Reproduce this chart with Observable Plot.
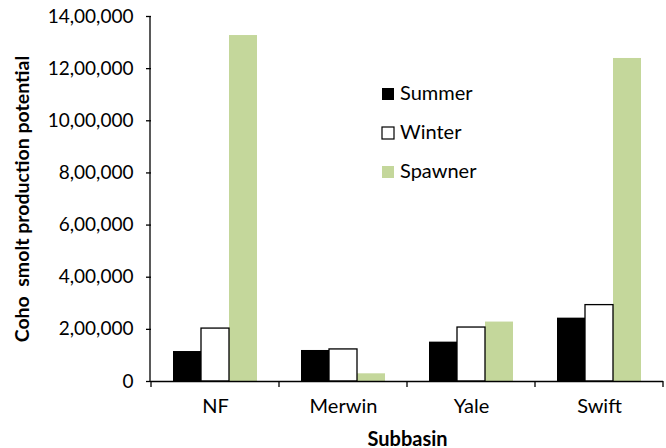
<!DOCTYPE html>
<html>
<head>
<meta charset="utf-8">
<script src="https://cdn.jsdelivr.net/npm/d3@7"></script>
<script src="https://cdn.jsdelivr.net/npm/@observablehq/plot@0.6"></script>
<style>
  html, body { margin: 0; padding: 0; background: #fff; }
  #chart svg { white-space: pre; }
</style>
</head>
<body>
<div id="chart"></div>
<script>
const subbasins = ["NF", "Merwin", "Yale", "Swift"];
const series = ["Summer", "Winter", "Spawner"];
const summer = [115000, 119000, 151000, 243000];
const winter = [203000, 123000, 207000, 293000];
const spawner = [1327000, 29500, 228000, 1239000];
const seriesFill = ["#000000", "#ffffff", "#c4d79b"];
const yTicks = [0, 200000, 400000, 600000, 800000, 1000000, 1200000, 1400000];
const yTickLabels = ["0", "2,00,000", "4,00,000", "6,00,000", "8,00,000", "10,00,000", "12,00,000", "14,00,000"];
const yTitle = "Coho  smolt production potential";
const xTitle = "Subbasin";

const values = {Summer: summer, Winter: winter, Spawner: spawner};
const data = subbasins.flatMap((s, i) => series.map(k => ({subbasin: s, series: k, value: values[k][i]})));

const FONT = "Lato, 'Open Sans', sans-serif";

const plot = Plot.plot({
  width: 666,
  height: 448,
  marginLeft: 150,
  marginRight: 3,
  marginTop: 16,
  marginBottom: 67,
  style: {fontFamily: FONT, fontSize: "19px", color: "#000", background: "#fff"},
  fx: {domain: subbasins, padding: 0},
  x: {domain: series, paddingInner: 0, paddingOuter: 0.75, axis: null},
  y: {domain: [0, 1400000]},
  color: {domain: series, range: seriesFill},
  marks: [
    Plot.barY(data.filter(d => d.series !== "Winter"), {fx: "subbasin", x: "series", y: "value", fill: "series"}),
    Plot.barY(data.filter(d => d.series === "Winter"), {fx: "subbasin", x: "series", y: "value", fill: "#ffffff", stroke: "#000", strokeWidth: 1.3}),
    Plot.ruleY([0], {stroke: "#000", strokeWidth: 1.3}),
    Plot.axisY({ticks: yTicks, tickFormat: d => yTickLabels[yTicks.indexOf(d)], tickSize: 5, tickPadding: 13, label: null, stroke: "#000", strokeWidth: 1.3, strokeOpacity: 1}),
    Plot.axisY({ticks: [], label: yTitle, labelArrow: "none", labelAnchor: "center", labelOffset: 136, fontWeight: "bold", fontSize: 19.5, dy: -8}),
    Plot.axisFx({anchor: "bottom", tickSize: 0, tickPadding: 17, label: null, fontSize: 20}),
    Plot.axisFx({anchor: "bottom", ticks: [], label: xTitle, labelArrow: "none", labelAnchor: "center", labelOffset: 64, fontWeight: "bold", fontSize: 20})
  ]
});

document.getElementById("chart").appendChild(plot);

// axis lines and category boundary ticks from the plot's own scales
const fx = plot.scale("fx");
const y = plot.scale("y");
const svg = d3.select(plot);
const g = svg.append("g").attr("stroke", "#000").attr("stroke-width", 1.3);
const x0 = fx.range[0];
g.append("line").attr("x1", x0).attr("x2", x0).attr("y1", y.apply(1400000)).attr("y2", y.apply(0));
const bounds = subbasins.map(s => fx.apply(s)).concat([fx.apply(subbasins[subbasins.length - 1]) + fx.bandwidth]);
bounds.forEach(b => {
  g.append("line").attr("x1", b).attr("x2", b).attr("y1", y.apply(0)).attr("y2", y.apply(0) + 6);
});

// legend
const lg = svg.append("g").attr("transform", "translate(382,88)")
  .attr("font-family", FONT).attr("font-size", 20).attr("text-anchor", "start");
series.forEach((s, i) => {
  const row = lg.append("g").attr("transform", `translate(0,${i * 39})`);
  row.append("rect").attr("width", 12).attr("height", 12)
    .attr("fill", seriesFill[i]).attr("stroke", s === "Winter" ? "#000" : "none").attr("stroke-width", 1.2);
  row.append("text").attr("x", 18).attr("y", 12).attr("fill", "#000").attr("text-anchor", "start").text(s);
});
</script>
</body>
</html>
